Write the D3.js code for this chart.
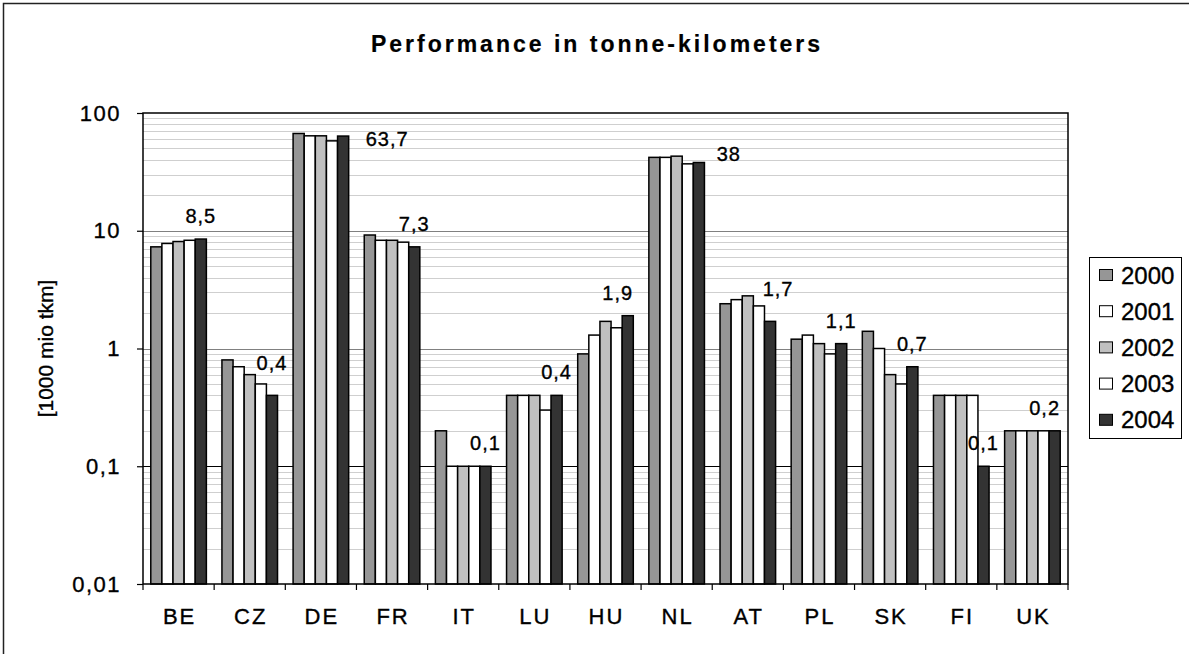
<!DOCTYPE html>
<html>
<head>
<meta charset="utf-8">
<script src="https://cdn.jsdelivr.net/npm/d3@7"></script>
<style>
  body { margin: 0; background: #fff; }
  svg text { font-family: "Liberation Sans", Arial, sans-serif; fill: #000; stroke: #000; stroke-width: 0.35px; }
</style>
</head>
<body>
<svg id="chart" width="1189" height="654"></svg>
<script>
var categories = ['BE', 'CZ', 'DE', 'FR', 'IT', 'LU', 'HU', 'NL', 'AT', 'PL', 'SK', 'FI', 'UK'];
var years = ['2000', '2001', '2002', '2003', '2004'];

var v2000 = [7.3, 0.8, 67, 9.2, 0.2, 0.4, 0.9, 42, 2.4, 1.2, 1.4, 0.4, 0.2];
var v2001 = [7.8, 0.7, 64, 8.3, 0.1, 0.4, 1.3, 42, 2.6, 1.3, 1.0, 0.4, 0.2];
var v2002 = [8.1, 0.6, 64, 8.3, 0.1, 0.4, 1.7, 43, 2.8, 1.1, 0.6, 0.4, 0.2];
var v2003 = [8.3, 0.5, 58, 8.0, 0.1, 0.3, 1.5, 37, 2.3, 0.9, 0.5, 0.4, 0.2];
var v2004 = [8.5, 0.4, 63.7, 7.3, 0.1, 0.4, 1.9, 38, 1.7, 1.1, 0.7, 0.1, 0.2];

var yTicks = [0.01, 0.1, 1, 10, 100];

var series = [v2000, v2001, v2002, v2003, v2004];
var fills = ['#969696', '#ffffff', '#c0c0c0', '#ffffff', '#333333'];

// where the value labels of the last series were moved by hand
var labelNudge = {CZ: [0, -9], DE: [44, 26], HU: [-10, 0], NL: [30, 15], AT: [8, -9], UK: [-10, 0]};

var fmt = function(v) { return String(v).replace('.', ','); };

var svg = d3.select('#chart');
var plot = {left: 143, top: 113, right: 1068, bottom: 584};

// outer frame
svg.append('rect').attr('x', 3.5).attr('y', 3.5).attr('width', 1200).attr('height', 700)
  .style('fill', '#fff').style('stroke', '#222').style('stroke-width', 1.5);

var x = d3.scaleBand().domain(categories).range([plot.left, plot.right]).padding(0);
var xs = d3.scaleBand().domain(years).range([0, x.bandwidth()]).paddingInner(0).paddingOuter(0.7);
var y = d3.scaleLog().domain([0.01, 100]).range([plot.bottom, plot.top]);

svg.append('rect').attr('x', plot.left).attr('y', plot.top)
  .attr('width', plot.right - plot.left).attr('height', plot.bottom - plot.top)
  .style('fill', '#fff');

// minor gridlines
var minor = [];
for (var d = 0.01; d < 100; d *= 10) {
  for (var m = 2; m <= 9; m++) minor.push(+(d * m).toPrecision(3));
}
svg.append('g').selectAll('line').data(minor).enter().append('line')
  .attr('x1', plot.left).attr('x2', plot.right)
  .attr('y1', function(d) { return Math.round(y(d)) + 0.5; })
  .attr('y2', function(d) { return Math.round(y(d)) + 0.5; })
  .style('stroke', '#cfcfcf').style('stroke-width', 1);

// major gridlines
svg.append('g').selectAll('line').data(yTicks.slice(1, 4)).enter().append('line')
  .attr('x1', plot.left).attr('x2', plot.right)
  .attr('y1', function(d) { return Math.round(y(d)) + 0.5; })
  .attr('y2', function(d) { return Math.round(y(d)) + 0.5; })
  .style('stroke', function(d) { return d == 0.1 ? '#000' : '#808080'; })
  .style('stroke-width', 1.2);

// bars
var groups = svg.append('g').selectAll('g').data(categories).enter().append('g')
  .attr('transform', function(c) { return 'translate(' + x(c) + ',0)'; });

groups.selectAll('rect').data(function(c, i) {
    return years.map(function(yr, k) { return {year: yr, value: series[k][i], fill: fills[k]}; });
  }).enter().append('rect')
  .attr('x', function(d) { return xs(d.year); })
  .attr('y', function(d) { return y(d.value); })
  .attr('width', xs.bandwidth())
  .attr('height', function(d) { return y(0.01) - y(d.value); })
  .style('fill', function(d) { return d.fill; })
  .style('stroke', '#000').style('stroke-width', 1.5);

// value labels for 2004
svg.append('g').selectAll('text').data(categories).enter().append('text')
  .attr('x', function(c) { return x(c) + xs('2004') + xs.bandwidth() / 2 + (labelNudge[c] ? labelNudge[c][0] : 0); })
  .attr('y', function(c, i) { return y(v2004[i]) - 16 + (labelNudge[c] ? labelNudge[c][1] : 0); })
  .attr('text-anchor', 'middle')
  .style('font-size', '20px').style('letter-spacing', '1px')
  .text(function(c, i) { return fmt(v2004[i]); });

// plot frame
svg.append('rect').attr('x', plot.left).attr('y', plot.top)
  .attr('width', plot.right - plot.left).attr('height', plot.bottom - plot.top)
  .style('fill', 'none').style('stroke', '#000').style('stroke-width', 1.5);

// y axis
var yAxis = svg.append('g').attr('transform', 'translate(' + plot.left + ',0)')
  .call(d3.axisLeft(y).tickValues(yTicks).tickFormat(fmt).tickSize(6).tickPadding(16));
yAxis.select('.domain').remove();
yAxis.selectAll('line').style('stroke', '#000').style('stroke-width', 1.2);
yAxis.selectAll('text').style('font-size', '22px').style('letter-spacing', '1.5px')
  .style('font-family', '"Liberation Sans", Arial, sans-serif');

// x axis, ticks sit on the category borders
var xAxis = svg.append('g').attr('transform', 'translate(0,' + plot.bottom + ')')
  .call(d3.axisBottom(x).tickSize(0).tickPadding(24));
xAxis.select('.domain').remove();
xAxis.selectAll('text').style('font-size', '22px').style('letter-spacing', '2px')
  .style('font-family', '"Liberation Sans", Arial, sans-serif')
  .attr('dx', '1px');
svg.append('g').selectAll('line').data(categories.concat(['end'])).enter().append('line')
  .attr('x1', function(c, i) { return plot.left + i * x.step(); })
  .attr('x2', function(c, i) { return plot.left + i * x.step(); })
  .attr('y1', plot.bottom).attr('y2', plot.bottom + 6)
  .style('stroke', '#000').style('stroke-width', 1.2);

// titles
svg.append('text').attr('x', 597).attr('y', 52).attr('text-anchor', 'middle')
  .style('font-size', '23px').style('font-weight', 'bold').style('letter-spacing', '3px')
  .style('stroke-width', '0.2px')
  .text('Performance in tonne-kilometers');

svg.append('text').attr('transform', 'translate(53,' + (plot.top + plot.bottom) / 2 + ') rotate(-90)')
  .attr('text-anchor', 'middle')
  .style('font-size', '21px')
  .text('[1000 mio tkm]');

// legend
var legend = svg.append('g');
legend.append('rect').attr('x', 1089.5).attr('y', 257.5).attr('width', 92).attr('height', 181)
  .style('fill', '#fff').style('stroke', '#000').style('stroke-width', 1);
var items = legend.selectAll('g').data(years).enter().append('g')
  .attr('transform', function(d, i) { return 'translate(1099,' + (275 + i * 36.2) + ')'; });
items.append('rect').attr('x', 0.5).attr('y', -5.5).attr('width', 13).attr('height', 11)
  .style('fill', function(d, i) { return fills[i]; })
  .style('stroke', '#000').style('stroke-width', 1);
items.append('text').attr('x', 22).attr('y', 8.5)
  .style('font-size', '24px')
  .text(function(d) { return d; });
</script>
</body>
</html>
